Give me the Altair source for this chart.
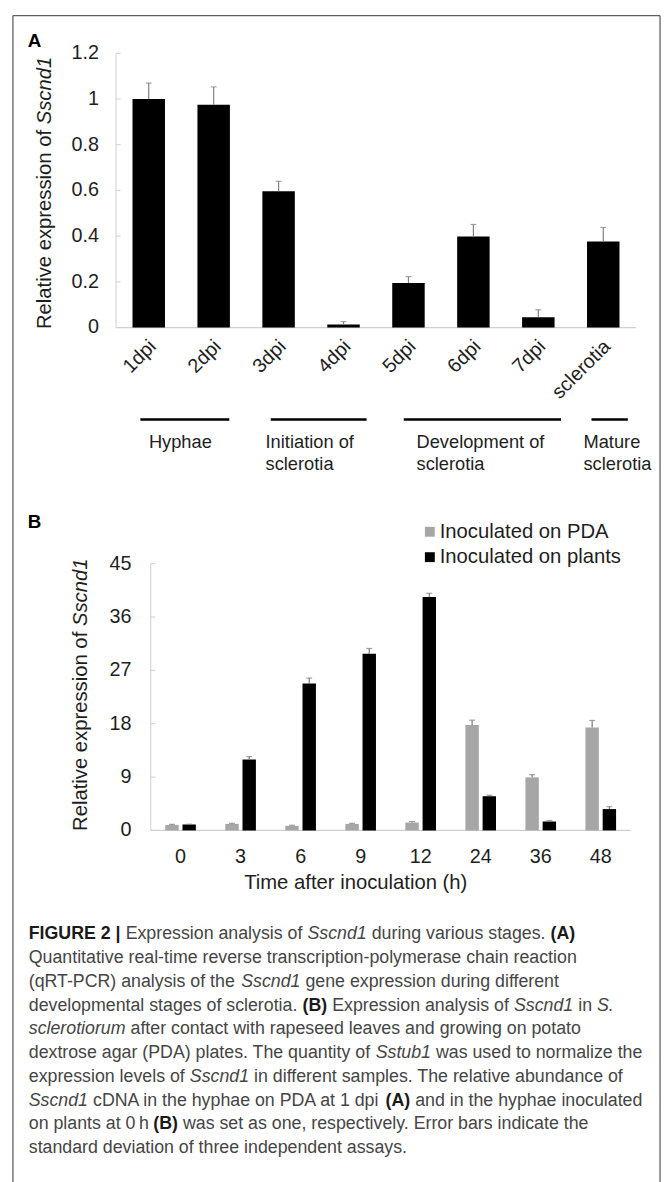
import altair as alt
import pandas as pd

FONT = "Liberation Sans, Arimo, Arial, Helvetica, sans-serif"

# ---------------- Panel A data ----------------
stages = ["1dpi", "2dpi", "3dpi", "4dpi", "5dpi", "6dpi", "7dpi", "sclerotia"]
expr_a = [1.0, 0.975, 0.597, 0.013, 0.195, 0.399, 0.045, 0.377]
sd_a = [0.07, 0.078, 0.043, 0.013, 0.028, 0.052, 0.033, 0.061]
yticks_a = [0, 0.2, 0.4, 0.6, 0.8, 1.0, 1.2]
ylabels_a = ["0", "0.2", "0.4", "0.6", "0.8", "1", "1.2"]
group_labels = [["Hyphae"], ["Initiation of", "sclerotia"],
                ["Development of", "sclerotia"], ["Mature", "sclerotia"]]

# ---------------- Panel B data ----------------
times = ["0", "3", "6", "9", "12", "24", "36", "48"]
series = ["Inoculated on PDA", "Inoculated on plants"]
pda = [0.93, 1.1, 0.77, 1.1, 1.33, 17.8, 8.95, 17.35]
pda_sd = [0.1, 0.1, 0.1, 0.1, 0.17, 0.8, 0.45, 1.2]
plants = [1.0, 11.95, 24.8, 29.8, 39.4, 5.77, 1.5, 3.6]
plants_sd = [0.05, 0.5, 0.9, 0.9, 0.6, 0.16, 0.17, 0.4]
yticks_b = [0, 9, 18, 27, 36, 45]
colors_b = ["#a6a6a6", "#000000"]

caption = [
    [("b", "FIGURE 2 |"), ("r", " Expression analysis of "), ("i", "Sscnd1"),
     ("r", " during various stages. "), ("b", "(A)")],
    [("r", "Quantitative real-time reverse transcription-polymerase chain reaction")],
    [("r", "(qRT-PCR) analysis of the "), ("i", "Sscnd1"), ("r", " gene expression during different")],
    [("r", "developmental stages of sclerotia. "), ("b", "(B)"), ("r", " Expression analysis of "),
     ("i", "Sscnd1"), ("r", " in "), ("i", "S.")],
    [("i", "sclerotiorum"), ("r", " after contact with rapeseed leaves and growing on potato")],
    [("r", "dextrose agar (PDA) plates. The quantity of "), ("i", "Sstub1"),
     ("r", " was used to normalize the")],
    [("r", "expression levels of "), ("i", "Sscnd1"),
     ("r", " in different samples. The relative abundance of")],
    [("i", "Sscnd1"), ("r", " cDNA in the hyphae on PDA at 1 dpi "), ("b", "(A)"),
     ("r", " and in the hyphae inoculated")],
    [("r", "on plants at 0\u2009h "), ("b", "(B)"),
     ("r", " was set as one, respectively. Error bars indicate the")],
    [("r", "standard deviation of three independent assays.")],
]

# ---------------- text metrics (Arial / Liberation Sans) ----------------
W_REG = {' ': 278, '(': 333, ')': 333, ',': 278, '-': 333, '.': 278, '|': 260, '\u2009': 167,
         'A': 667, 'B': 667, 'C': 722, 'D': 722, 'E': 667, 'F': 611, 'G': 778, 'H': 722, 'I': 278,
         'J': 500, 'K': 667, 'L': 556, 'M': 833, 'N': 722, 'O': 778, 'P': 667, 'Q': 778, 'R': 722,
         'S': 667, 'T': 611, 'U': 722, 'V': 667, 'W': 944, 'X': 667, 'Y': 667, 'Z': 611,
         'a': 556, 'b': 556, 'c': 500, 'd': 556, 'e': 556, 'f': 278, 'g': 556, 'h': 556, 'i': 222,
         'j': 222, 'k': 500, 'l': 222, 'm': 833, 'n': 556, 'o': 556, 'p': 556, 'q': 556, 'r': 333,
         's': 500, 't': 278, 'u': 556, 'v': 500, 'w': 722, 'x': 500, 'y': 500, 'z': 500}
for _d in "0123456789":
    W_REG[_d] = 556
W_BOLD = {' ': 278, '(': 333, ')': 333, '|': 280, 'A': 722, 'B': 722, 'E': 667, 'F': 611,
          'G': 778, 'I': 278, 'R': 722, 'U': 722}
for _d in "0123456789":
    W_BOLD[_d] = 556


def tw(s, size, style="r"):
    table = W_BOLD if style == "b" else W_REG
    return sum(table.get(c, 556) for c in s) * size / 1000.0


def P(v):  # page pixel -> chart pixel (8px page margin)
    return v - 8


# ---------------- frame ----------------
frame_df = pd.DataFrame({
    "x1": [P(13), P(668), P(13)], "x2": [P(13), P(668), P(668)],
    "y1": [P(8.5), P(8.5), P(8.5)], "y2": [1200, 1200, P(8.5)],
})
frame = alt.Chart(frame_df).mark_rule(color="#606060", strokeWidth=1.3).encode(
    x=alt.X("x1:Q", scale=None, axis=None), x2="x2:Q",
    y=alt.Y("y1:Q", scale=None, axis=None), y2="y2:Q")

# ---------------- Panel A ----------------
dfA = pd.DataFrame({"stage": stages, "value": expr_a,
                    "top": [v + s for v, s in zip(expr_a, sd_a)]})
xA = alt.Scale(domain=stages, range=[P(117.6), P(643.4)], paddingInner=0.5, paddingOuter=0.25)
yA = alt.Scale(domain=[0, 1.2], range=[P(324.3), P(46.7)], nice=False)
XA = alt.X("stage:N", scale=xA, axis=None)

barsA = alt.Chart(dfA).mark_bar(color="#000000").encode(
    x=XA, y=alt.Y("value:Q", scale=yA, axis=None))
errA = alt.Chart(dfA).mark_rule(color="#808080", strokeWidth=1.2).encode(
    x=XA, y=alt.Y("value:Q", scale=yA, axis=None), y2="top:Q")
capA = alt.Chart(dfA).mark_tick(color="#808080", size=6, thickness=1.2, orient="horizontal").encode(
    x=XA, y=alt.Y("top:Q", scale=yA, axis=None))

dfTA = pd.DataFrame({"v": yticks_a, "lab": ylabels_a})
ytxtA = alt.Chart(dfTA).mark_text(align="right", baseline="middle", font=FONT, fontSize=20,
                                  color="#1e1e1e").encode(
    y=alt.Y("v:Q", scale=yA, axis=None), x=alt.value(P(100)), text="lab:N")
ytickA = alt.Chart(dfTA).mark_rule(color="#cfcfcf", strokeWidth=1).encode(
    y=alt.Y("v:Q", scale=yA, axis=None), x=alt.value(P(117.3)), x2=alt.value(P(122)))
dfAxA = pd.DataFrame({"a": [yticks_a[0]], "b": [yticks_a[-1]]})
yaxA = alt.Chart(dfAxA).mark_rule(color="#cfcfcf", strokeWidth=1).encode(
    y=alt.Y("a:Q", scale=yA, axis=None), y2="b:Q", x=alt.value(P(117.3)))
baseA = alt.Chart(dfAxA).mark_rule(color="#cfcfcf", strokeWidth=1.2).encode(
    y=alt.Y("a:Q", scale=yA, axis=None), x=alt.value(P(117.3)), x2=alt.value(P(644)))
xlabA = alt.Chart(dfA).mark_text(angle=315, align="right", baseline="middle", font=FONT,
                                 fontSize=20, color="#1e1e1e", dx=2, dy=4).encode(
    x=XA, y=alt.value(P(339)), text="stage:N")

panelA = alt.layer(yaxA, baseA, ytickA, barsA, errA, capA, ytxtA, xlabA)

# group lines and labels under panel A
grp_lines = pd.DataFrame({"x1": [P(142), P(274), P(408.6), P(598.6)],
                          "x2": [P(232), P(371), P(567.8), P(635.4)],
                          "y": [P(417.3)] * 4})
grpline = alt.Chart(grp_lines).mark_rule(color="#000000", strokeWidth=2.6).encode(
    x=alt.X("x1:Q", scale=None, axis=None), x2="x2:Q", y=alt.Y("y:Q", scale=None, axis=None))
grp_x = [150.6, 268.7, 421.5, 590.5]
grp_rows = []
for gx, lines in zip(grp_x, group_labels):
    for k, t in enumerate(lines):
        grp_rows.append({"x": P(gx), "y": P(440 + 22 * k), "t": t})
grptxt = alt.Chart(pd.DataFrame(grp_rows)).mark_text(
    align="left", baseline="middle", font=FONT, fontSize=18.5, color="#1e1e1e").encode(
    x=alt.X("x:Q", scale=None, axis=None), y=alt.Y("y:Q", scale=None, axis=None), text="t:N")

# ---------------- Panel B ----------------
rowsB = []
for i, t in enumerate(times):
    rowsB.append({"time": t, "series": series[0], "value": pda[i], "top": pda[i] + pda_sd[i]})
    rowsB.append({"time": t, "series": series[1], "value": plants[i], "top": plants[i] + plants_sd[i]})
dfB = pd.DataFrame(rowsB)
xB = alt.Scale(domain=times, range=[P(152.3), P(638.4)], paddingInner=0.49, paddingOuter=0.245)
xoB = alt.Scale(domain=series, paddingInner=0.22, paddingOuter=0)
yB = alt.Scale(domain=[0, 45], range=[P(833.3), P(563.3)], nice=False)
cB = alt.Scale(domain=series, range=colors_b)
XB = alt.X("time:N", scale=xB, axis=None)
XOB = alt.XOffset("series:N", scale=xoB)

barsB = alt.Chart(dfB).mark_bar().encode(
    x=XB, xOffset=XOB, y=alt.Y("value:Q", scale=yB, axis=None),
    color=alt.Color("series:N", scale=cB, legend=None))
errB = alt.Chart(dfB).mark_rule(color="#7a7a7a", strokeWidth=1.2).encode(
    x=XB, xOffset=XOB, y=alt.Y("value:Q", scale=yB, axis=None), y2="top:Q")
capB = alt.Chart(dfB).mark_tick(color="#7a7a7a", size=6, thickness=1.2, orient="horizontal").encode(
    x=XB, xOffset=XOB, y=alt.Y("top:Q", scale=yB, axis=None))

dfTB = pd.DataFrame({"v": yticks_b, "lab": [str(v) for v in yticks_b]})
ytxtB = alt.Chart(dfTB).mark_text(align="right", baseline="middle", font=FONT, fontSize=20,
                                  color="#1e1e1e").encode(
    y=alt.Y("v:Q", scale=yB, axis=None), x=alt.value(P(133)), text="lab:N")
ytickB = alt.Chart(dfTB).mark_rule(color="#cfcfcf", strokeWidth=1).encode(
    y=alt.Y("v:Q", scale=yB, axis=None), x=alt.value(P(152.5)), x2=alt.value(P(157)))
dfAxB = pd.DataFrame({"a": [yticks_b[0]], "b": [yticks_b[-1]]})
yaxB = alt.Chart(dfAxB).mark_rule(color="#cfcfcf", strokeWidth=1).encode(
    y=alt.Y("a:Q", scale=yB, axis=None), y2="b:Q", x=alt.value(P(152.5)))
baseB = alt.Chart(dfAxB).mark_rule(color="#cfcfcf", strokeWidth=1.2).encode(
    y=alt.Y("a:Q", scale=yB, axis=None), x=alt.value(P(152.5)), x2=alt.value(P(638.5)))
dfXB = pd.DataFrame({"time": times})
xlabB = alt.Chart(dfXB).mark_text(align="center", baseline="middle", font=FONT, fontSize=20,
                                  color="#1e1e1e").encode(
    x=XB, y=alt.value(P(860)), text="time:N")

legend_y = [531, 556.7]
leg_layers = []
for s, ly in zip(series, legend_y):
    dl = pd.DataFrame({"series": [s]})
    leg_layers.append(alt.Chart(dl).mark_square(size=100, opacity=1).encode(
        x=alt.value(P(435)), y=alt.value(P(ly)),
        color=alt.Color("series:N", scale=cB, legend=None)))
    leg_layers.append(alt.Chart(dl).mark_text(align="left", baseline="middle", font=FONT,
                                              fontSize=20.5, color="#1e1e1e").encode(
        x=alt.value(P(445)), y=alt.value(P(ly)), text="series:N"))

panelB = alt.layer(yaxB, baseB, ytickB, barsB, errB, capB, ytxtB, xlabB, *leg_layers)


# ---------------- titles and panel letters ----------------
def vtitle(cx, cy, size):
    r1 = "Relative expression of "
    r2 = "Sscnd1"
    total = tw(r1 + r2, size)
    bottom = cy + total / 2
    a = pd.DataFrame({"x": [P(cx)], "y": [P(bottom)], "t": [r1.strip()]})
    b = pd.DataFrame({"x": [P(cx)], "y": [P(bottom - tw(r1, size))], "t": [r2]})
    enc = dict(x=alt.X("x:Q", scale=None, axis=None), y=alt.Y("y:Q", scale=None, axis=None), text="t:N")
    l1 = alt.Chart(a).mark_text(angle=270, align="left", baseline="middle", font=FONT,
                                fontSize=size, color="#1e1e1e").encode(**enc)
    l2 = alt.Chart(b).mark_text(angle=270, align="left", baseline="middle", font=FONT,
                                fontSize=size, fontStyle="italic", color="#1e1e1e").encode(**enc)
    return [l1, l2]


titles = vtitle(46, 188, 20.5) + vtitle(82, 696, 20.5)

letters = alt.Chart(pd.DataFrame({"x": [P(28), P(28)], "y": [P(40), P(527)], "t": ["A", "B"]})).mark_text(
    align="left", baseline="alphabetic", font=FONT, fontSize=19, fontWeight="bold", color="#000000").encode(
    x=alt.X("x:Q", scale=None, axis=None), y=alt.Y("y:Q", scale=None, axis=None), text="t:N")

xtitleB = alt.Chart(pd.DataFrame({"x": [P(360)], "y": [P(887)], "t": ["Time after inoculation (h)"]})).mark_text(
    align="center", baseline="middle", font=FONT, fontSize=20.5, color="#1e1e1e").encode(
    x=alt.X("x:Q", scale=None, axis=None), y=alt.Y("y:Q", scale=None, axis=None), text="t:N")

# ---------------- caption ----------------
CAP_SIZE = 18
cap_rows = []
for li, parts in enumerate(caption):
    cur = 29.0
    y = 938.5 + 24.05 * li
    for style, t in parts:
        lead = len(t) - len(t.lstrip(" "))
        cap_rows.append({"x": P(cur + tw(" " * lead, CAP_SIZE, style)), "y": P(y),
                         "t": t.strip(), "style": style})
        cur += tw(t, CAP_SIZE, style)
capdf = pd.DataFrame(cap_rows)
cap_enc = dict(x=alt.X("x:Q", scale=None, axis=None), y=alt.Y("y:Q", scale=None, axis=None), text="t:N")
cap_r = alt.Chart(capdf[capdf["style"] == "r"]).mark_text(
    align="left", baseline="middle", font=FONT, fontSize=CAP_SIZE, color="#454545").encode(**cap_enc)
cap_i = alt.Chart(capdf[capdf["style"] == "i"]).mark_text(
    align="left", baseline="middle", font=FONT, fontSize=CAP_SIZE, fontStyle="italic",
    color="#454545").encode(**cap_enc)
cap_b = alt.Chart(capdf[capdf["style"] == "b"]).mark_text(
    align="left", baseline="middle", font=FONT, fontSize=CAP_SIZE, fontWeight="bold",
    color="#1a1a1a").encode(**cap_enc)

chart = alt.layer(
    frame, panelA, grpline, grptxt, panelB, *titles, letters, xtitleB, cap_r, cap_i, cap_b
).resolve_scale(
    x="independent", y="independent", color="independent"
).properties(
    width=662, height=1174, padding=0,
    autosize=alt.AutoSizeParams(type="none"),
).configure_view(stroke=None)

chart.save("out.html", embed_options={"renderer": "svg", "actions": False})
